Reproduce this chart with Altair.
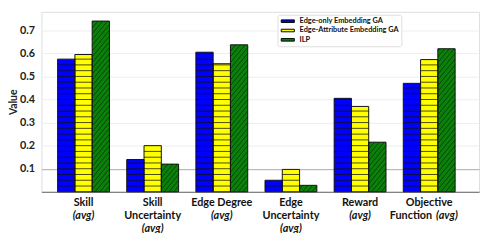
import altair as alt
import pandas as pd

categories = ["Skill", "Skill Uncertainty", "Edge Degree", "Edge Uncertainty", "Reward", "Objective Function"]
series = ["Edge-only Embedding GA", "Edge-Attribute Embedding GA", "ILP"]
edge_only = [0.575, 0.140, 0.605, 0.050, 0.405, 0.470]
edge_attr = [0.595, 0.200, 0.555, 0.097, 0.370, 0.573]
ilp = [0.740, 0.120, 0.637, 0.028, 0.215, 0.620]
colors = ["#0000FF", "#FFFF00", "#0A820A"]
y_ticks = [0.1, 0.2, 0.3, 0.4, 0.5, 0.6, 0.7]
label_line1 = ["Skill", "Skill", "Edge Degree", "Edge", "Reward", "Objective"]
label_line2 = ["(avg)", "Uncertainty", "(avg)", "Uncertainty", "(avg)", "Function (avg)"]
label_line3 = ["", "(avg)", "", "(avg)", "", ""]

FONT = "Lato"
BAR_W = 0.25
STRIPE = 0.025
RISE = 0.09
H = 183
W = 445

values = [edge_only, edge_attr, ilp]
bar_rows, stripe_rows, hatch_rows = [], [], []
for i, cat in enumerate(categories):
    for j, s in enumerate(series):
        v = values[j][i]
        x0 = i - 1.5 * BAR_W + BAR_W * j
        x1 = x0 + BAR_W
        bar_rows.append({"category": cat, "series": s, "x0": x0, "x1": x1, "value": v, "base": 0.0})
        if j < 2:
            k = 1
            while STRIPE * k < v - 0.004:
                stripe_rows.append({"x0": x0, "x1": x1, "value": STRIPE * k})
                k += 1
        else:
            c = -RISE
            while c < v:
                t0 = max(0.0, -c / RISE)
                t1 = min(1.0, (v - c) / RISE)
                if t1 > t0:
                    hatch_rows.append({
                        "x0": x0 + (x1 - x0) * t0, "value": c + RISE * t0,
                        "x1": x0 + (x1 - x0) * t1, "value2": c + RISE * t1,
                    })
                c += STRIPE

bars_df = pd.DataFrame(bar_rows)
stripes_df = pd.DataFrame(stripe_rows)
hatch_df = pd.DataFrame(hatch_rows)

label_rows = []
for i in range(len(categories)):
    for line, txt in enumerate([label_line1[i], label_line2[i], label_line3[i]]):
        if not txt:
            continue
        if txt == "(avg)":
            label_rows.append({"x0": i, "line": line, "text": txt, "style": "italic", "pos": "c"})
        elif txt.endswith(" (avg)"):
            label_rows.append({"x0": i, "line": line, "text": txt[:-6], "style": "normal", "pos": "r"})
            label_rows.append({"x0": i, "line": line, "text": "(avg)", "style": "italic", "pos": "l"})
        else:
            label_rows.append({"x0": i, "line": line, "text": txt, "style": "normal", "pos": "c"})
labels_df = pd.DataFrame(label_rows)

xscale = alt.Scale(domain=[-0.609, 5.721], nice=False, zero=False)
yscale = alt.Scale(domain=[0, 0.78], nice=False, zero=True)

grid_color = alt.condition("datum.value == 0.1", alt.value("#aaaaaa"), alt.value("#eeeeee"))

xaxis = alt.Axis(labels=False, ticks=False, grid=False, domainColor="#666666", title=None)
yaxis = alt.Axis(values=y_ticks, format=".1f", ticks=False, domain=False, labelPadding=7,
                 labelOverlap=False,
                 labelFont=FONT, labelFontWeight="bold", labelFontSize=11, labelColor="#222",
                 title="Value", titleFont=FONT, titleFontWeight="bold", titleFontSize=10.5,
                 titleColor="#222", titleX=-23, titleY=H / 2, titleAngle=270,
                 gridColor=grid_color)

X = alt.X("x0:Q", scale=xscale, axis=xaxis)
Y = alt.Y("value:Q", scale=yscale, axis=yaxis)

bars = alt.Chart(bars_df).mark_rect(strokeWidth=0).encode(
    x=X, x2="x1:Q", y=Y, y2="base:Q",
    color=alt.Color("series:N", scale=alt.Scale(domain=series, range=colors),
                    legend=alt.Legend(orient="none", legendX=240, legendY=3, title=None,
                                      symbolType="M-1.9,-0.37L1.9,-0.37L1.9,0.37L-1.9,0.37Z", symbolSize=49,
                                      symbolStrokeColor="black", symbolStrokeWidth=1, symbolOpacity=1,
                                      symbolOffset=4, labelOffset=8,
                                      labelFont=FONT, labelFontWeight="bold", labelFontSize=7.5,
                                      labelColor="#111", fillColor="white", strokeColor="#dddddd",
                                      padding=2.5, rowPadding=1.5, cornerRadius=2, labelLimit=300,
                                      labelExpr="datum.label + '        '")),
)

stripes = alt.Chart(stripes_df).mark_rule(color="#111111", strokeWidth=0.9, opacity=0.85).encode(
    x=X, x2="x1:Q", y=Y
)

hatch = alt.Chart(hatch_df).mark_rule(color="#0b2a0b", strokeWidth=0.8, opacity=0.9).encode(
    x=X, x2="x1:Q", y=Y, y2="value2:Q"
)

outlines = alt.Chart(bars_df).mark_rect(fillOpacity=0, stroke="#111111", strokeWidth=1).encode(
    x=X, x2="x1:Q", y=Y, y2="base:Q"
)

text_layers = []
for line in range(3):
    for style in ["normal", "italic"]:
        for pos, align, dx in [("c", "center", 0), ("r", "right", 3), ("l", "left", 7)]:
            sub = labels_df[(labels_df.line == line) & (labels_df["style"] == style) & (labels_df.pos == pos)]
            if len(sub) == 0:
                continue
            text_layers.append(
                alt.Chart(sub).mark_text(font=FONT, fontWeight="bold", fontStyle=style, fontSize=11,
                                         color="#111111", align=align, dx=dx, baseline="middle").encode(
                    x=X, y=alt.value(H + 11 + 13.5 * line), text="text:N"
                )
            )

chart = alt.layer(bars, stripes, hatch, outlines, *text_layers).properties(
    width=W, height=H,
    autosize=alt.AutoSizeParams(type="none"),
    padding={"left": 34, "top": 2, "right": 3, "bottom": 40},
).configure_view(stroke="#dddddd").configure(background="white").configure_axisY(labelOverlap=False)

chart.save("out.html", embed_options={"renderer": "svg", "actions": False})
